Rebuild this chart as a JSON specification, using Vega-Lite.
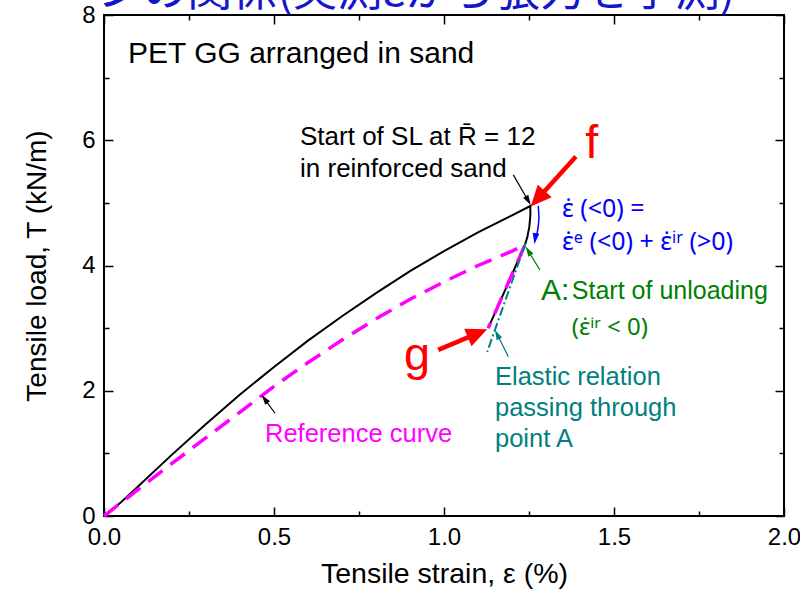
{
  "$schema": "https://vega.github.io/schema/vega-lite/v6.json",
  "width": 680,
  "height": 501,
  "autosize": "none",
  "padding": {"left": 104, "top": 15, "right": 16, "bottom": 73},
  "background": "white",
  "config": {
    "view": {"stroke": "black", "strokeWidth": 2},
    "font": "Liberation Sans",
    "axis": {"domain": false, "grid": false, "tickColor": "black", "tickWidth": 1.5, "labelColor": "black", "titleColor": "black", "labelFont": "Liberation Sans", "titleFont": "Liberation Sans", "titleFontWeight": "normal", "labelFlush": false, "labelOverlap": false}
  },
  "datasets": {
    "lines": [
      {"s": "load", "i": 0, "x": 0, "y": 0},
      {"s": "load", "i": 1, "x": 0.05, "y": 0.22},
      {"s": "load", "i": 2, "x": 0.1, "y": 0.47},
      {"s": "load", "i": 3, "x": 0.2, "y": 0.98},
      {"s": "load", "i": 4, "x": 0.3, "y": 1.47},
      {"s": "load", "i": 5, "x": 0.4, "y": 1.94},
      {"s": "load", "i": 6, "x": 0.5, "y": 2.38},
      {"s": "load", "i": 7, "x": 0.6, "y": 2.8},
      {"s": "load", "i": 8, "x": 0.7, "y": 3.19},
      {"s": "load", "i": 9, "x": 0.8, "y": 3.56},
      {"s": "load", "i": 10, "x": 0.9, "y": 3.91},
      {"s": "load", "i": 11, "x": 1.0, "y": 4.23},
      {"s": "load", "i": 12, "x": 1.1, "y": 4.53},
      {"s": "load", "i": 13, "x": 1.2, "y": 4.8},
      {"s": "load", "i": 14, "x": 1.254, "y": 4.95},
      {"s": "load", "i": 15, "x": 1.254, "y": 4.8},
      {"s": "load", "i": 16, "x": 1.251, "y": 4.62},
      {"s": "load", "i": 17, "x": 1.245, "y": 4.45},
      {"s": "load", "i": 18, "x": 1.238, "y": 4.33},
      {"s": "load", "i": 19, "x": 1.184, "y": 3.66},
      {"s": "load", "i": 20, "x": 1.13, "y": 3.0},
      {"s": "ref", "i": 0, "x": 0, "y": 0},
      {"s": "ref", "i": 1, "x": 0.1, "y": 0.42},
      {"s": "ref", "i": 2, "x": 0.2, "y": 0.84},
      {"s": "ref", "i": 3, "x": 0.3, "y": 1.25},
      {"s": "ref", "i": 4, "x": 0.4, "y": 1.66},
      {"s": "ref", "i": 5, "x": 0.5, "y": 2.07},
      {"s": "ref", "i": 6, "x": 0.6, "y": 2.45},
      {"s": "ref", "i": 7, "x": 0.7, "y": 2.81},
      {"s": "ref", "i": 8, "x": 0.8, "y": 3.15},
      {"s": "ref", "i": 9, "x": 0.9, "y": 3.46},
      {"s": "ref", "i": 10, "x": 1.0, "y": 3.74},
      {"s": "ref", "i": 11, "x": 1.1, "y": 4.0},
      {"s": "ref", "i": 12, "x": 1.2, "y": 4.23},
      {"s": "ref", "i": 13, "x": 1.238, "y": 4.33},
      {"s": "ref", "i": 14, "x": 1.184, "y": 3.66},
      {"s": "ref", "i": 15, "x": 1.13, "y": 3.0},
      {"s": "elastic", "i": 0, "x": 1.24, "y": 4.36},
      {"s": "elastic", "i": 1, "x": 1.127, "y": 2.62}
    ]
  },
  "layer": [
    {
      "data": {"name": "lines"},
      "transform": [{"filter": "datum.s === 'load'"}],
      "mark": {"type": "line", "color": "black", "strokeWidth": 2},
      "encoding": {
        "x": {"field": "x", "type": "quantitative", "scale": {"domain": [0, 2], "nice": false, "zero": false},
          "axis": {"orient": "bottom", "values": [0, 0.5, 1, 1.5, 2], "format": ".1f", "tickSize": -9, "labelPadding": 18, "labelFontSize": 24, "title": "Tensile strain, ε (%)", "titleFontSize": 28.5, "titlePadding": 10}},
        "y": {"field": "y", "type": "quantitative", "scale": {"domain": [0, 8], "nice": false, "zero": false},
          "axis": {"orient": "left", "values": [0, 2, 4, 6, 8], "tickSize": -9, "labelPadding": 18, "labelFontSize": 24, "title": "Tensile load, T (kN/m)", "titleFontSize": 28, "titlePadding": 30}},
        "order": {"field": "i", "type": "quantitative"}
      }
    },
    {
      "data": {"name": "lines"},
      "transform": [{"filter": "datum.s === 'ref'"}],
      "mark": {"type": "line", "color": "#ff00ff", "strokeWidth": 3.5, "strokeDash": [18, 10]},
      "encoding": {
        "x": {"field": "x", "type": "quantitative", "scale": {"domain": [0, 2], "nice": false, "zero": false},
          "axis": {"orient": "bottom", "values": [0.25, 0.75, 1.25, 1.75], "tickSize": -5, "labels": false, "title": null}},
        "y": {"field": "y", "type": "quantitative", "scale": {"domain": [0, 8], "nice": false, "zero": false},
          "axis": {"orient": "left", "values": [1, 3, 5, 7], "tickSize": -5, "labels": false, "title": null}},
        "order": {"field": "i", "type": "quantitative"}
      }
    },
    {
      "data": {"name": "lines"},
      "transform": [{"filter": "datum.s === 'elastic'"}],
      "mark": {"type": "line", "color": "#008080", "strokeWidth": 2, "strokeDash": [9, 3, 2, 3]},
      "encoding": {
        "x": {"field": "x", "type": "quantitative", "scale": {"domain": [0, 2], "nice": false, "zero": false},
          "axis": {"orient": "top", "values": [0, 0.5, 1, 1.5, 2], "tickSize": -9, "labels": false, "title": null}},
        "y": {"field": "y", "type": "quantitative", "scale": {"domain": [0, 8], "nice": false, "zero": false},
          "axis": {"orient": "right", "values": [0, 2, 4, 6, 8], "tickSize": -9, "labels": false, "title": null}},
        "order": {"field": "i", "type": "quantitative"}
      }
    },
    {
      "data": {"values": [
        {"x": 1.388, "y": 5.74, "x2": 1.279, "y2": 5.086},
        {"x": 0.983, "y": 2.652, "x2": 1.095, "y2": 2.907}
      ]},
      "mark": {"type": "rule", "color": "red", "strokeWidth": 4.5},
      "encoding": {
        "x": {"field": "x", "type": "quantitative", "scale": {"domain": [0, 2], "nice": false, "zero": false},
          "axis": {"orient": "top", "values": [0.25, 0.75, 1.25, 1.75], "tickSize": -5, "labels": false, "title": null}},
        "y": {"field": "y", "type": "quantitative", "scale": {"domain": [0, 8], "nice": false, "zero": false},
          "axis": {"orient": "right", "values": [1, 3, 5, 7], "tickSize": -5, "labels": false, "title": null}},
        "x2": {"field": "x2"},
        "y2": {"field": "y2"}
      }
    },
    {
      "data": {"values": [
        {"x": 1.255, "y": 4.941, "dir": 222},
        {"x": 1.127, "y": 2.982, "dir": 67}
      ]},
      "mark": {"type": "point", "shape": "M0,0L-0.9,2L0.9,2Z", "size": 441, "filled": true, "color": "red", "opacity": 1},
      "encoding": {
        "x": {"field": "x", "type": "quantitative", "axis": null},
        "y": {"field": "y", "type": "quantitative", "axis": null},
        "angle": {"field": "dir", "type": "quantitative", "scale": null}
      }
    },
    {
      "data": {"values": [
        {"x": 1.204, "y": 5.447, "x2": 1.246, "y2": 5.051},
        {"x": 0.503, "y": 1.641, "x2": 0.474, "y2": 1.855}
      ]},
      "mark": {"type": "rule", "color": "black", "strokeWidth": 1.2},
      "encoding": {
        "x": {"field": "x", "type": "quantitative", "axis": null},
        "y": {"field": "y", "type": "quantitative", "axis": null},
        "x2": {"field": "x2"},
        "y2": {"field": "y2"}
      }
    },
    {
      "data": {"values": [
        {"x": 1.255, "y": 4.968, "dir": 150},
        {"x": 0.464, "y": 1.933, "dir": 324}
      ]},
      "mark": {"type": "point", "shape": "M0,0L-0.6,2L0.6,2Z", "size": 100, "filled": true, "color": "black", "opacity": 1},
      "encoding": {
        "x": {"field": "x", "type": "quantitative", "axis": null},
        "y": {"field": "y", "type": "quantitative", "axis": null},
        "angle": {"field": "dir", "type": "quantitative", "scale": null}
      }
    },
    {
      "data": {"values": [{"x": 1.282, "y": 3.93, "x2": 1.249, "y2": 4.22}]},
      "mark": {"type": "rule", "color": "green", "strokeWidth": 1.2},
      "encoding": {
        "x": {"field": "x", "type": "quantitative", "axis": null},
        "y": {"field": "y", "type": "quantitative", "axis": null},
        "x2": {"field": "x2"},
        "y2": {"field": "y2"}
      }
    },
    {
      "data": {"values": [{"x": 1.24, "y": 4.302, "dir": 328}]},
      "mark": {"type": "point", "shape": "M0,0L-0.6,2L0.6,2Z", "size": 100, "filled": true, "color": "green", "opacity": 1},
      "encoding": {
        "x": {"field": "x", "type": "quantitative", "axis": null},
        "y": {"field": "y", "type": "quantitative", "axis": null},
        "angle": {"field": "dir", "type": "quantitative", "scale": null}
      }
    },
    {
      "data": {"values": [{"x": 1.189, "y": 2.545, "x2": 1.158, "y2": 2.885}]},
      "mark": {"type": "rule", "color": "#008080", "strokeWidth": 1.2},
      "encoding": {
        "x": {"field": "x", "type": "quantitative", "axis": null},
        "y": {"field": "y", "type": "quantitative", "axis": null},
        "x2": {"field": "x2"},
        "y2": {"field": "y2"}
      }
    },
    {
      "data": {"values": [{"x": 1.15, "y": 2.971, "dir": 334}]},
      "mark": {"type": "point", "shape": "M0,0L-0.6,2L0.6,2Z", "size": 100, "filled": true, "color": "#008080", "opacity": 1},
      "encoding": {
        "x": {"field": "x", "type": "quantitative", "axis": null},
        "y": {"field": "y", "type": "quantitative", "axis": null},
        "angle": {"field": "dir", "type": "quantitative", "scale": null}
      }
    },
    {
      "data": {"values": [
        {"i": 0, "x": 1.277, "y": 4.952},
        {"i": 1, "x": 1.279, "y": 4.75},
        {"i": 2, "x": 1.275, "y": 4.55},
        {"i": 3, "x": 1.27, "y": 4.44}
      ]},
      "mark": {"type": "line", "color": "blue", "strokeWidth": 1.5, "interpolate": "catmull-rom"},
      "encoding": {
        "x": {"field": "x", "type": "quantitative", "axis": null},
        "y": {"field": "y", "type": "quantitative", "axis": null},
        "order": {"field": "i", "type": "quantitative"}
      }
    },
    {
      "data": {"values": [{"x": 1.266, "y": 4.34, "dir": 188}]},
      "mark": {"type": "point", "shape": "M0,0L-0.6,2L0.6,2Z", "size": 121, "filled": true, "color": "blue", "opacity": 1},
      "encoding": {
        "x": {"field": "x", "type": "quantitative", "axis": null},
        "y": {"field": "y", "type": "quantitative", "axis": null},
        "angle": {"field": "dir", "type": "quantitative", "scale": null}
      }
    },
    {
      "data": {"values": [{"x": 0.0706, "y": 7.236, "t": "PET GG arranged in sand"}]},
      "mark": {"type": "text", "align": "left", "baseline": "alphabetic", "fontSize": 30, "color": "black"},
      "encoding": {
        "x": {"field": "x", "type": "quantitative", "axis": null},
        "y": {"field": "y", "type": "quantitative", "axis": null},
        "text": {"field": "t"}
      }
    },
    {
      "data": {"values": [
        {"x": 0.5765, "y": 5.927, "t": "Start of SL at R̄ = 12"},
        {"x": 0.5765, "y": 5.42, "t": "in reinforced sand"}
      ]},
      "mark": {"type": "text", "align": "left", "baseline": "alphabetic", "fontSize": 26, "color": "black"},
      "encoding": {
        "x": {"field": "x", "type": "quantitative", "axis": null},
        "y": {"field": "y", "type": "quantitative", "axis": null},
        "text": {"field": "t"}
      }
    },
    {
      "data": {"values": [
        {"x": 1.435, "y": 5.719, "t": "f"},
        {"x": 0.921, "y": 2.332, "t": "g"}
      ]},
      "mark": {"type": "text", "align": "center", "baseline": "alphabetic", "fontSize": 47, "color": "red"},
      "encoding": {
        "x": {"field": "x", "type": "quantitative", "axis": null},
        "y": {"field": "y", "type": "quantitative", "axis": null},
        "text": {"field": "t"}
      }
    },
    {
      "data": {"values": [
        {"x": 1.347, "y": 4.776, "t": "ε̇ (<0) ="},
        {"x": 1.347, "y": 4.249, "t": "ε̇ᵉ (<0) + ε̇ⁱʳ (>0)"}
      ]},
      "mark": {"type": "text", "align": "left", "baseline": "alphabetic", "fontSize": 25, "font": "Noto Sans", "color": "blue"},
      "encoding": {
        "x": {"field": "x", "type": "quantitative", "axis": null},
        "y": {"field": "y", "type": "quantitative", "axis": null},
        "text": {"field": "t"}
      }
    },
    {
      "data": {"values": [{"x": 1.285, "y": 3.45, "t": "A:"}]},
      "mark": {"type": "text", "align": "left", "baseline": "alphabetic", "fontSize": 30, "color": "green"},
      "encoding": {
        "x": {"field": "x", "type": "quantitative", "axis": null},
        "y": {"field": "y", "type": "quantitative", "axis": null},
        "text": {"field": "t"}
      }
    },
    {
      "data": {"values": [{"x": 1.376, "y": 3.458, "t": "Start of unloading"}]},
      "mark": {"type": "text", "align": "left", "baseline": "alphabetic", "fontSize": 25, "color": "green"},
      "encoding": {
        "x": {"field": "x", "type": "quantitative", "axis": null},
        "y": {"field": "y", "type": "quantitative", "axis": null},
        "text": {"field": "t"}
      }
    },
    {
      "data": {"values": [{"x": 1.376, "y": 2.896, "t": "(ε̇ⁱʳ < 0)"}]},
      "mark": {"type": "text", "align": "left", "baseline": "alphabetic", "fontSize": 24, "font": "Noto Sans", "color": "green"},
      "encoding": {
        "x": {"field": "x", "type": "quantitative", "axis": null},
        "y": {"field": "y", "type": "quantitative", "axis": null},
        "text": {"field": "t"}
      }
    },
    {
      "data": {"values": [
        {"x": 1.15, "y": 2.093, "t": "Elastic relation"},
        {"x": 1.15, "y": 1.597, "t": "passing through"},
        {"x": 1.15, "y": 1.102, "t": "point A"}
      ]},
      "mark": {"type": "text", "align": "left", "baseline": "alphabetic", "fontSize": 25.5, "color": "#008080"},
      "encoding": {
        "x": {"field": "x", "type": "quantitative", "axis": null},
        "y": {"field": "y", "type": "quantitative", "axis": null},
        "text": {"field": "t"}
      }
    },
    {
      "data": {"values": [{"x": 0.4735, "y": 1.187, "t": "Reference curve"}]},
      "mark": {"type": "text", "align": "left", "baseline": "alphabetic", "fontSize": 25.5, "color": "#ff00ff"},
      "encoding": {
        "x": {"field": "x", "type": "quantitative", "axis": null},
        "y": {"field": "y", "type": "quantitative", "axis": null},
        "text": {"field": "t"}
      }
    },
    {
      "data": {"values": [{"x": -0.02, "y": 8.15, "t": "ンの関係(実測εから張力を予測)"}]},
      "mark": {"type": "text", "align": "left", "baseline": "alphabetic", "fontSize": 45, "font": "Noto Sans CJK JP", "color": "#1515cc"},
      "encoding": {
        "x": {"field": "x", "type": "quantitative", "axis": null},
        "y": {"field": "y", "type": "quantitative", "axis": null},
        "text": {"field": "t"}
      }
    }
  ],
  "resolve": {"axis": {"x": "independent", "y": "independent"}}
}
